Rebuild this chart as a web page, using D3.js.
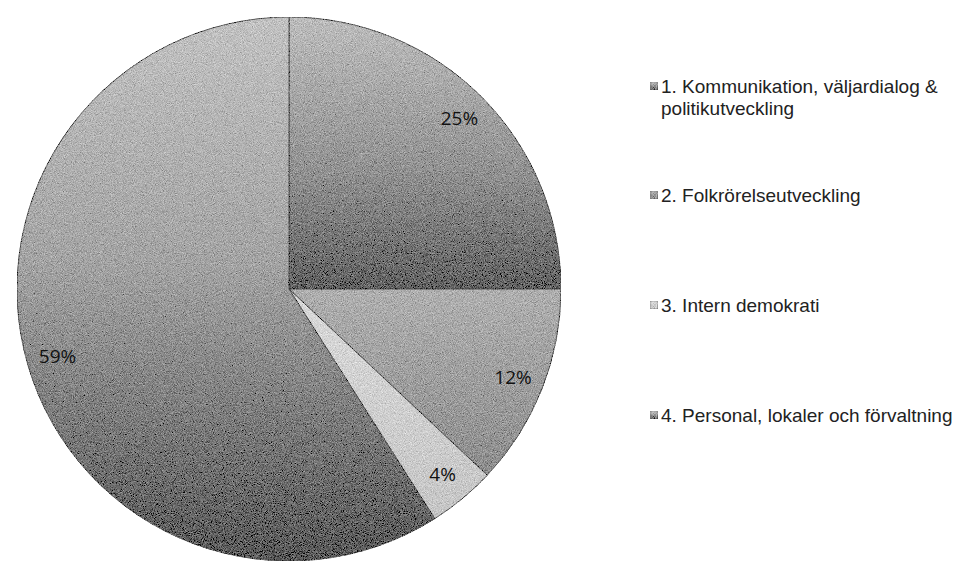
<!DOCTYPE html>
<html>
<head>
<meta charset="utf-8">
<script src="https://cdn.jsdelivr.net/npm/d3@7"></script>
<style>
body { margin: 0; background: #fff; }
</style>
</head>
<body>
<div id="piechart"></div>
<script>
var categories = ["1. Kommunikation, väljardialog & politikutveckling",
                  "2. Folkrörelseutveckling",
                  "3. Intern demokrati",
                  "4. Personal, lokaler och förvaltning"],
    legendLines = [["1. Kommunikation, väljardialog &", "politikutveckling"],
                   ["2. Folkrörelseutveckling"],
                   ["3. Intern demokrati"],
                   ["4. Personal, lokaler och förvaltning"]],
    values = [25, 12, 4, 59],
    valueLabels = ["25%", "12%", "4%", "59%"];

var width = 963,
    height = 561,
    cx = 289,
    cy = 289,
    radius = 272,
    labelRadius = 241;

// gradient stops per slice (top -> bottom of each slice)
var sliceStops = [
    [["0%", "#bdbdbd"], ["55%", "#949494"], ["100%", "#636363"]],
    [["0%", "#b0b0b0"], ["100%", "#8e8e8e"]],
    [["0%", "#dadada"], ["100%", "#c6c6c6"]],
    [["0%", "#c2c2c2"], ["45%", "#a4a4a4"], ["100%", "#5a5a5a"]]
];

var svg = d3.select("div#piechart").append("svg")
    .attr("width", width).attr("height", height);

var defs = svg.append("defs");

// grainy, scanned look
var grain = defs.append("filter").attr("id", "grain")
    .attr("x", 0).attr("y", 0).attr("width", 1).attr("height", 1);
grain.append("feTurbulence").attr("type", "fractalNoise")
    .attr("baseFrequency", 1.1).attr("numOctaves", 2).attr("seed", 4).attr("result", "noise");
grain.append("feColorMatrix").attr("in", "noise").attr("type", "matrix")
    .attr("values", "0.33 0.33 0.33 0 0  0.33 0.33 0.33 0 0  0.33 0.33 0.33 0 0  0 0 0 0 1")
    .attr("result", "gray");
grain.append("feComposite").attr("in", "SourceGraphic").attr("in2", "gray")
    .attr("operator", "arithmetic").attr("k1", 0).attr("k2", 1).attr("k3", 1.0).attr("k4", -0.5)
    .attr("result", "mixed");
grain.append("feComposite").attr("in", "mixed").attr("in2", "SourceGraphic").attr("operator", "in");

sliceStops.forEach(function(stops, i) {
    var g = defs.append("linearGradient").attr("id", "grad" + i)
        .attr("x1", 0).attr("y1", 0).attr("x2", 0).attr("y2", 1);
    stops.forEach(function(s) {
        g.append("stop").attr("offset", s[0]).attr("stop-color", s[1]);
    });
});

var pie = d3.pie().sort(null).value(function(d) { return d; });
var arcs = pie(values);

var arc = d3.arc().innerRadius(0).outerRadius(radius);
var labelArc = d3.arc().innerRadius(labelRadius).outerRadius(labelRadius);

var pieGroup = svg.append("g").attr("transform", "translate(" + cx + "," + cy + ")");

pieGroup.append("g").attr("filter", "url(#grain)")
    .selectAll("path").data(arcs).enter().append("path")
    .attr("d", arc)
    .attr("fill", function(d, i) { return "url(#grad" + i + ")"; })
    .attr("stroke", "#4d4d4d")
    .attr("stroke-width", 0.9);

pieGroup.selectAll("text.value").data(arcs).enter().append("text")
    .attr("class", "value")
    .attr("transform", function(d) { return "translate(" + labelArc.centroid(d) + ")"; })
    .attr("text-anchor", "middle")
    .attr("dy", "0.35em")
    .attr("font-family", "'Open Sans', 'Noto Sans', sans-serif")
    .attr("font-size", 19)
    .attr("fill", "#111")
    .text(function(d, i) { return valueLabels[i]; });

// legend
var legendY = [86, 195, 305, 415],
    legendX = 650,
    lineHeight = 22;

var legend = svg.append("g").attr("class", "legend");

var items = legend.selectAll("g").data(categories).enter().append("g")
    .attr("transform", function(d, i) { return "translate(" + legendX + "," + legendY[i] + ")"; });

items.append("rect")
    .attr("x", 0).attr("y", -4).attr("width", 8).attr("height", 8)
    .attr("fill", function(d, i) { return "url(#grad" + i + ")"; })
    .attr("stroke", "#666").attr("stroke-width", 0.6)
    .attr("filter", "url(#grain)");

items.each(function(d, i) {
    var t = d3.select(this).append("text")
        .attr("x", 11).attr("y", 0)
        .attr("font-family", "'Liberation Sans', Arial, sans-serif")
        .attr("font-size", 19)
        .attr("fill", "#222");
    legendLines[i].forEach(function(line, j) {
        t.append("tspan").attr("x", 11).attr("dy", j === 0 ? "0.35em" : lineHeight).text(line);
    });
});
</script>
</body>
</html>
